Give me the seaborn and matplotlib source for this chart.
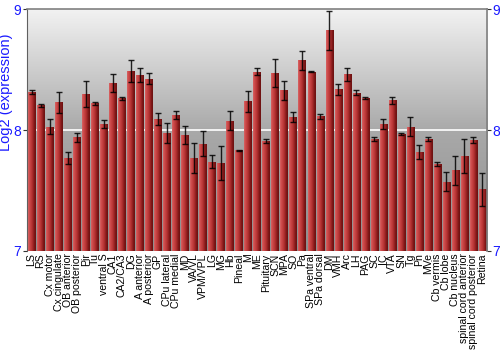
import numpy as np
import pandas as pd
import matplotlib
matplotlib.use("Agg")
import matplotlib.pyplot as plt
import seaborn as sns
from matplotlib.colors import LinearSegmentedColormap

regions = ["LS", "RS", "Cx motor", "Cx cingulate", "OB anterior", "OB posterior",
           "Pir", "Tu", "ventral S", "CA1", "CA2/CA3", "DG", "A anterior",
           "A posterior", "GP", "CPu lateral", "CPu medial", "MD", "VA/VL",
           "VPM/VPL", "LG", "MG", "Hb", "Pineal", "M", "ME", "Pituitary", "SCN",
           "MPA", "SO", "Pa", "SPa ventral", "SPa dorsal", "DM", "VMH", "Arc",
           "LH", "PAG", "SC", "IC", "VTA", "SN", "Tg", "Pn", "MVe", "Cb vermis",
           "Cb lobe", "Cb nucleus", "spinal cord anterior",
           "spinal cord posterior", "Retina"]

expression = [8.315, 8.204, 8.027, 8.229, 7.767, 7.939, 8.298, 8.220, 8.051,
              8.391, 8.262, 8.488, 8.458, 8.425, 8.090, 7.977, 8.124, 7.958,
              7.770, 7.886, 7.737, 7.728, 8.076, 7.833, 8.237, 8.483, 7.908,
              8.469, 8.331, 8.109, 8.577, 8.483, 8.115, 8.826, 8.339, 8.461,
              8.308, 8.267, 7.927, 8.049, 8.245, 7.969, 8.027, 7.817, 7.927,
              7.717, 7.571, 7.665, 7.786, 7.914, 7.510]

error = [0.020, 0.015, 0.062, 0.085, 0.048, 0.040, 0.106, 0.010, 0.033,
         0.073, 0.010, 0.092, 0.058, 0.047, 0.051, 0.081, 0.036, 0.072,
         0.123, 0.105, 0.054, 0.141, 0.079, 0.005, 0.090, 0.030, 0.015,
         0.116, 0.079, 0.041, 0.082, 0.005, 0.020, 0.159, 0.046, 0.051,
         0.020, 0.008, 0.017, 0.044, 0.032, 0.010, 0.080, 0.056, 0.014,
         0.014, 0.079, 0.119, 0.141, 0.025, 0.137]

y_ticks = [7, 8, 9]
y_label = "Log2 (expression)"

df = pd.DataFrame({"region": regions, "expression": expression, "error": error})

sns.set_style("white")
plt.rcParams["font.family"] = ["Liberation Sans", "DejaVu Sans"]

fig = plt.figure(figsize=(5, 3.5), dpi=100)
ax = fig.add_axes([0.054, 0.284, 0.920, 0.689])

# background gradient
bg_cmap = LinearSegmentedColormap.from_list("bg", ["#8e8e8e", "#a9a9a9", "#f2f2f2"])
grad = np.linspace(0, 1, 256).reshape(-1, 1)
ax.imshow(grad, aspect="auto", cmap=bg_cmap, origin="lower",
          extent=[-0.5, len(regions) - 0.5, 7, 9], zorder=0)

sns.barplot(data=df, x="region", y="expression", color="#b83232",
            width=0.8, ax=ax, zorder=2, errorbar=None, linewidth=0)

# horizontal gradient per bar (cylinder effect)
bar_cmap = LinearSegmentedColormap.from_list(
    "bar", ["#d86464", "#cc4a4a", "#be3a3a", "#a62a2a", "#801818", "#6a1010"])
hgrad = np.linspace(0, 1, 64).reshape(1, -1)
for p in ax.patches:
    x0 = p.get_x()
    w = p.get_width()
    h = p.get_height()
    im = ax.imshow(hgrad, aspect="auto", cmap=bar_cmap,
                   extent=[x0, x0 + w, 7, h], zorder=2.5)
    im.set_clip_path(p)
    p.set_facecolor("none")

ax.axhline(8, color="white", lw=1.2, zorder=1)

ax.errorbar(np.arange(len(regions)), df["expression"], yerr=df["error"],
            fmt="none", ecolor="black", elinewidth=1, capsize=2.2,
            capthick=1, zorder=4, alpha=0.85)

ax.set_xlim(-0.5, len(regions) - 0.5)
ax.set_ylim(7, 9)
ax.set_yticks(y_ticks)
ax.set_yticklabels([str(t) for t in y_ticks])
ax.tick_params(axis="y", colors="#333333", labelcolor="#1a1aff",
               labelsize=10, length=3, left=True, right=True,
               labelleft=True, labelright=True, pad=1)
ax.tick_params(axis="x", length=0, pad=2)
ax.set_xticks(range(len(regions)))
ax.set_xticklabels(regions, rotation=90, fontsize=7.6, color="black",
                   va="top", ha="center")
ax.set_xlabel("")
ax.set_ylabel(y_label, color="#1a1aff", fontsize=10.5)
ax.yaxis.set_label_coords(-0.031, 0.655)

for side in ["top", "right"]:
    ax.spines[side].set_color("#808080")
    ax.spines[side].set_linewidth(1.2)
ax.spines["left"].set_color("#606060")
ax.spines["bottom"].set_visible(False)

fig.savefig("out.png", dpi=100)
